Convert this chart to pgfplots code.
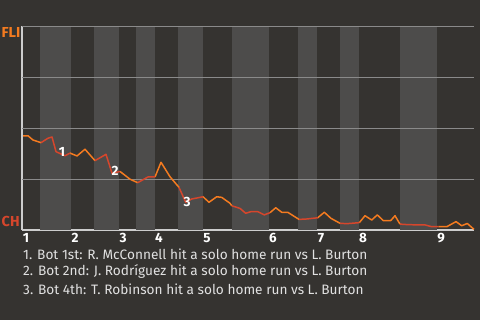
\documentclass[border=0pt]{standalone}
\usepackage{pgfplots}
\pgfplotsset{compat=1.18}
\usepackage{fontspec}
\setmainfont{Fira Sans}
\definecolor{bg}{RGB}{53,51,48}
\definecolor{band}{RGB}{77,76,75}
\definecolor{fli}{RGB}{244,123,32}
\definecolor{chc}{RGB}{214,70,44}
\definecolor{gridc}{RGB}{138,138,138}
\definecolor{axc}{RGB}{205,205,205}
\definecolor{txt}{RGB}{225,225,225}
\begin{document}
\begin{tikzpicture}[x=1bp,y=1bp]
\fill[bg] (0,0) rectangle (480,320);
\path[use as bounding box] (0,0) rectangle (480,320);
\begin{axis}[
  at={(22bp,90bp)}, anchor=south west,
  scale only axis, width=452bp, height=204bp,
  xmin=22, xmax=474, ymin=0, ymax=100,
  axis x line*=bottom, axis y line*=left,
  axis line style={axc, line width=1.2pt},
  ytick={25,50,75,100}, yticklabels={},
  xtick={22,71,119,155,203,269,317,359,437},
  xticklabels={1,2,3,4,5,6,7,8,9},
  xticklabel style={font=\bfseries\fontsize{13.5}{13.5}\selectfont, text=white, anchor=north, xshift=4bp, yshift=0bp},
  major tick length=0pt,
  clip=false,
  unbounded coords=jump,
  every axis plot/.append style={line width=1.5pt, line join=round},
]
\fill[band] (axis cs:40,0) rectangle (axis cs:71,100);
\fill[band] (axis cs:94,0) rectangle (axis cs:119,100);
\fill[band] (axis cs:136,0) rectangle (axis cs:155,100);
\fill[band] (axis cs:178,0) rectangle (axis cs:203,100);
\fill[band] (axis cs:232,0) rectangle (axis cs:269,100);
\fill[band] (axis cs:298,0) rectangle (axis cs:317,100);
\fill[band] (axis cs:340,0) rectangle (axis cs:359,100);
\fill[band] (axis cs:400,0) rectangle (axis cs:437,100);
\draw[gridc, line width=0.9pt] (axis cs:22,25) -- (axis cs:474,25);
\draw[gridc, line width=0.9pt] (axis cs:22,50) -- (axis cs:474,50);
\draw[gridc, line width=0.9pt] (axis cs:22,75) -- (axis cs:474,75);
\draw[gridc, line width=0.9pt] (axis cs:22,100) -- (axis cs:474,100);
% top halves (FLI batting)
\addplot[fli] coordinates {
 (23,46.2)(28,46.2)(33,44.1)(41,42.8) (41,nan)
 (70,37.7)(77,36.3)(85,39.6)(95,34.0) (95,nan)
 (120,28.7)(130,24.9)(137.7,23.2) (137.7,nan)
 (155,26.0)(161,33.2)(170,26.1)(179,20.9) (179,nan)
 (203,16.3)(209,13.6)(216.7,16.3)(221.7,16.0)(230,13.1)(231.7,11.9) (231.7,nan)
 (270,8.5)(275.7,10.9)(281.7,8.7)(287.7,8.7)(299,5.2) (299,nan)
 (317.7,6.0)(324.3,8.7)(331,5.7)(340,3.3) (340,nan)
 (359.3,3.6)(365,7.0)(371.7,4.9)(377.3,7.4)(383.3,4.6)(390.7,4.6)(395,7.0)(400,2.9) (400,nan)
 (438.3,1.6)(446.7,1.6)(456,4.1)(461.7,2.1)(467.3,3.2)(474,0.3)
};
% bottom halves (CH batting)
\addplot[chc] coordinates {
 (41,42.8)(48,45.0)(52,45.6)(56,38.4)(65,36.4)(70,37.7) (70,nan)
 (95,34.0)(106,37.1)(112,27.8)(120,28.7) (120,nan)
 (137.7,23.2)(148,26.0)(155,26.0) (155,nan)
 (179,20.9)(185.7,13.6)(191.7,15.2)(198,15.8)(203,16.3) (203,nan)
 (231.7,11.9)(240,10.6)(245.7,8.2)(251,9.0)(257.7,9.0)(264.3,7.4)(270,8.5) (270,nan)
 (299,5.2)(306.7,5.4)(317.7,6.0) (317.7,nan)
 (340,3.3)(346.7,3.1)(359.3,3.6) (359.3,nan)
 (400,2.9)(408.3,2.6)(425,2.5)(431.7,1.6)(438.3,1.6)
};
\node[font=\bfseries\fontsize{13.5}{13.5}\selectfont, text=white] at (axis cs:62,38.4) {1};
\node[font=\bfseries\fontsize{13.5}{13.5}\selectfont, text=white] at (axis cs:115,29.0) {2};
\node[font=\bfseries\fontsize{13.5}{13.5}\selectfont, text=white] at (axis cs:187,13.6) {3};
\end{axis}
\node[font=\bfseries\fontsize{14.5}{14.5}\selectfont, text=fli, anchor=west, inner sep=0pt] at (1.5,287.5) {FLI};
\node[font=\bfseries\fontsize{14.5}{14.5}\selectfont, text=chc, anchor=west, inner sep=0pt] at (1.5,99) {CH};
\begin{scope}[every node/.style={font=\fontsize{13.7}{13.7}\selectfont, text=txt, anchor=west, inner sep=0pt}]
\node at (23,66) {1. Bot 1st: R. McConnell hit a solo home run vs L. Burton};
\node at (23,48.5) {2. Bot 2nd: J. Rodríguez hit a solo home run vs L. Burton};
\node at (23,31) {3. Bot 4th: T. Robinson hit a solo home run vs L. Burton};
\end{scope}
\end{tikzpicture}
\end{document}
